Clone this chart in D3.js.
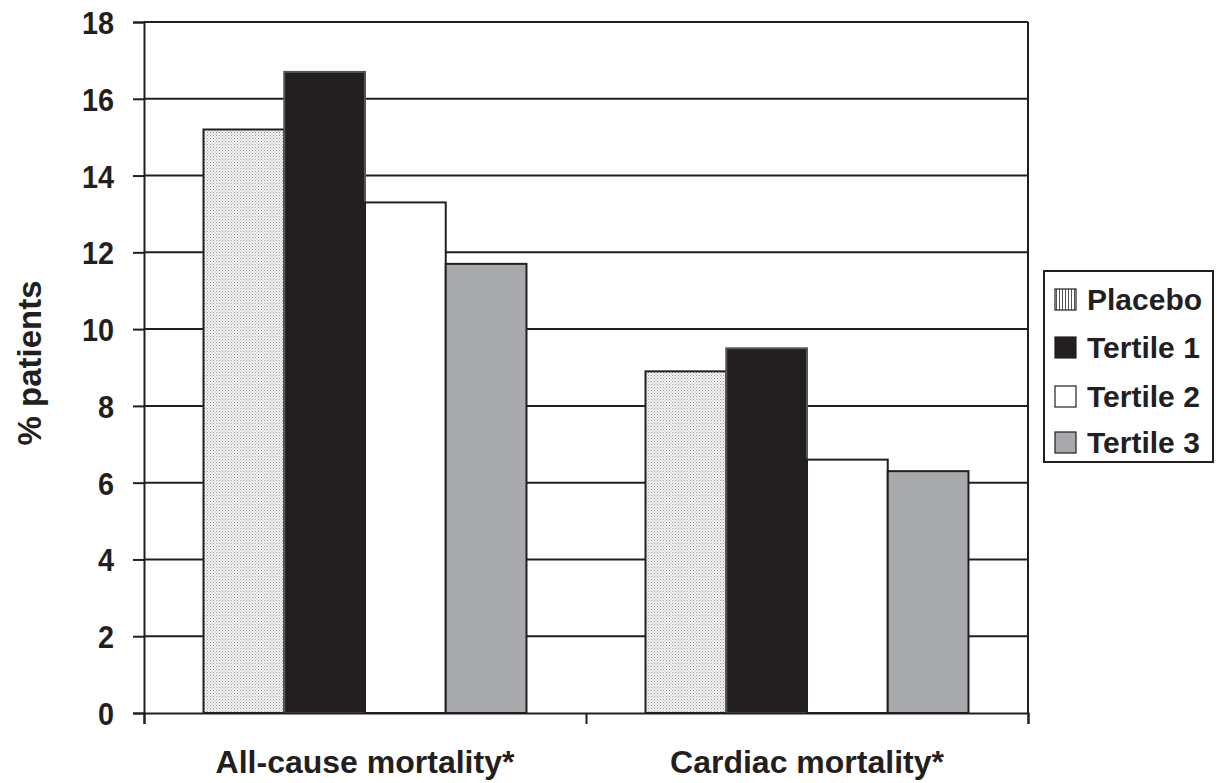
<!DOCTYPE html>
<html><head><meta charset="utf-8">
<script src="https://cdn.jsdelivr.net/npm/d3@7"></script>
<style>body{margin:0;background:#fff}svg{display:block}text{font-family:"Liberation Sans",Arial,sans-serif;font-weight:bold;fill:#231f20}</style>
</head><body><svg id="c" width="1217" height="783"></svg>
<script>
const categories = ["All-cause mortality*", "Cardiac mortality*"];
const seriesNames = ["Placebo", "Tertile 1", "Tertile 2", "Tertile 3"];
const placebo = [15.2, 8.9];
const tertile1 = [16.7, 9.5];
const tertile2 = [13.3, 6.6];
const tertile3 = [11.7, 6.3];
const yTicks = [0, 2, 4, 6, 8, 10, 12, 14, 16, 18];

const seriesValues = [placebo, tertile1, tertile2, tertile3];
const fills = ["url(#stipple)", "#231f20", "#ffffff", "#a7a9ac"];
const legendFills = ["url(#vlines)", "#231f20", "#ffffff", "#a7a9ac"];

const svg = d3.select("#c");
const defs = svg.append("defs");
const st = defs.append("pattern").attr("id","stipple").attr("patternUnits","userSpaceOnUse").attr("width",3).attr("height",3);
st.append("rect").attr("width",3).attr("height",3).attr("fill","#f2f2f2");
st.append("rect").attr("x",0).attr("y",0).attr("width",1).attr("height",1).attr("fill","#9a9a9a");
st.append("rect").attr("x",1.5).attr("y",1.5).attr("width",1).attr("height",1).attr("fill","#b5b5b5");
const vl = defs.append("pattern").attr("id","vlines").attr("patternUnits","userSpaceOnUse").attr("width",3).attr("height",3);
vl.append("rect").attr("width",3).attr("height",3).attr("fill","#fff");
vl.append("rect").attr("width",1).attr("height",3).attr("fill","#555");

const L = 144, R = 1028, T = 22, B = 713;
const y = d3.scaleLinear().domain([0, 18]).range([B, T]);
const x0 = d3.scaleBand().domain(categories).range([L, R]).paddingInner(0).paddingOuter(0);
const x1 = d3.scaleBand().domain(seriesNames).range([0, x0.bandwidth()]).paddingOuter(0.737).paddingInner(0);

// gridlines
svg.append("g").selectAll("line").data(yTicks.filter(d=>d>0)).join("line")
  .attr("x1", L).attr("x2", R).attr("y1", d=>y(d)).attr("y2", d=>y(d))
  .attr("stroke", "#231f20").attr("stroke-width", 2);

// bars
const g = svg.append("g");
seriesNames.forEach((s, si) => {
  g.selectAll(null).data(categories).join("rect")
    .attr("x", c => x0(c) + x1(s))
    .attr("width", x1.bandwidth())
    .attr("y", (c, ci) => y(seriesValues[si][ci]))
    .attr("height", (c, ci) => B - y(seriesValues[si][ci]))
    .attr("fill", fills[si])
    .attr("stroke", si===1 ? "#555" : "#231f20").attr("stroke-width", 2);
});

// right border
svg.append("line").attr("x1",R).attr("x2",R).attr("y1",T).attr("y2",B).attr("stroke","#231f20").attr("stroke-width",2);

// y axis
const ya = svg.append("g").attr("transform", `translate(${L},0)`)
  .call(d3.axisLeft(y).tickValues(yTicks).tickSize(11).tickPadding(20).tickFormat(d3.format("d")));
ya.select(".domain").attr("stroke","#231f20").attr("stroke-width",2);
ya.selectAll(".tick line").attr("stroke","#231f20").attr("stroke-width",2);
ya.selectAll(".tick text").attr("font-size",32).attr("font-family",null).attr("fill","#231f20")
  .attr("dy","0.36em").attr("x", null)
  .attr("transform","translate(-30,0) scale(0.9,1)");

// x axis
const xa = svg.append("g").attr("transform", `translate(0,${B})`)
  .call(d3.axisBottom(d3.scaleLinear().domain([0,2]).range([L,R])).tickValues([0,1,2]).tickSize(11).tickFormat(""));
xa.select(".domain").attr("stroke","#231f20").attr("stroke-width",2);
xa.selectAll(".tick line").attr("stroke","#231f20").attr("stroke-width",2);

svg.append("g").selectAll("text").data(categories).join("text")
  .attr("x", c => x0(c) + x0.bandwidth()/2).attr("y", 773)
  .attr("text-anchor","middle").attr("font-size",32)
  .text(c=>c);

svg.append("text").attr("transform","translate(41,363) rotate(-90)")
  .attr("text-anchor","middle").attr("font-size",33).text("% patients");

// legend
const lg = svg.append("g").attr("transform","translate(1044,271)");
lg.append("rect").attr("width",169).attr("height",191).attr("fill","#fff").attr("stroke","#231f20").attr("stroke-width",2);
const rowY = [28, 76, 125, 171];
seriesNames.forEach((s, i) => {
  lg.append("rect").attr("x",11).attr("y",rowY[i]-10).attr("width",21).attr("height",21)
    .attr("fill",legendFills[i]).attr("stroke", "#231f20").attr("stroke-width",1.2);
  lg.append("text").attr("x",43).attr("y",rowY[i]).attr("dy","0.36em").attr("font-size",30).text(s);
});
</script></body></html>
